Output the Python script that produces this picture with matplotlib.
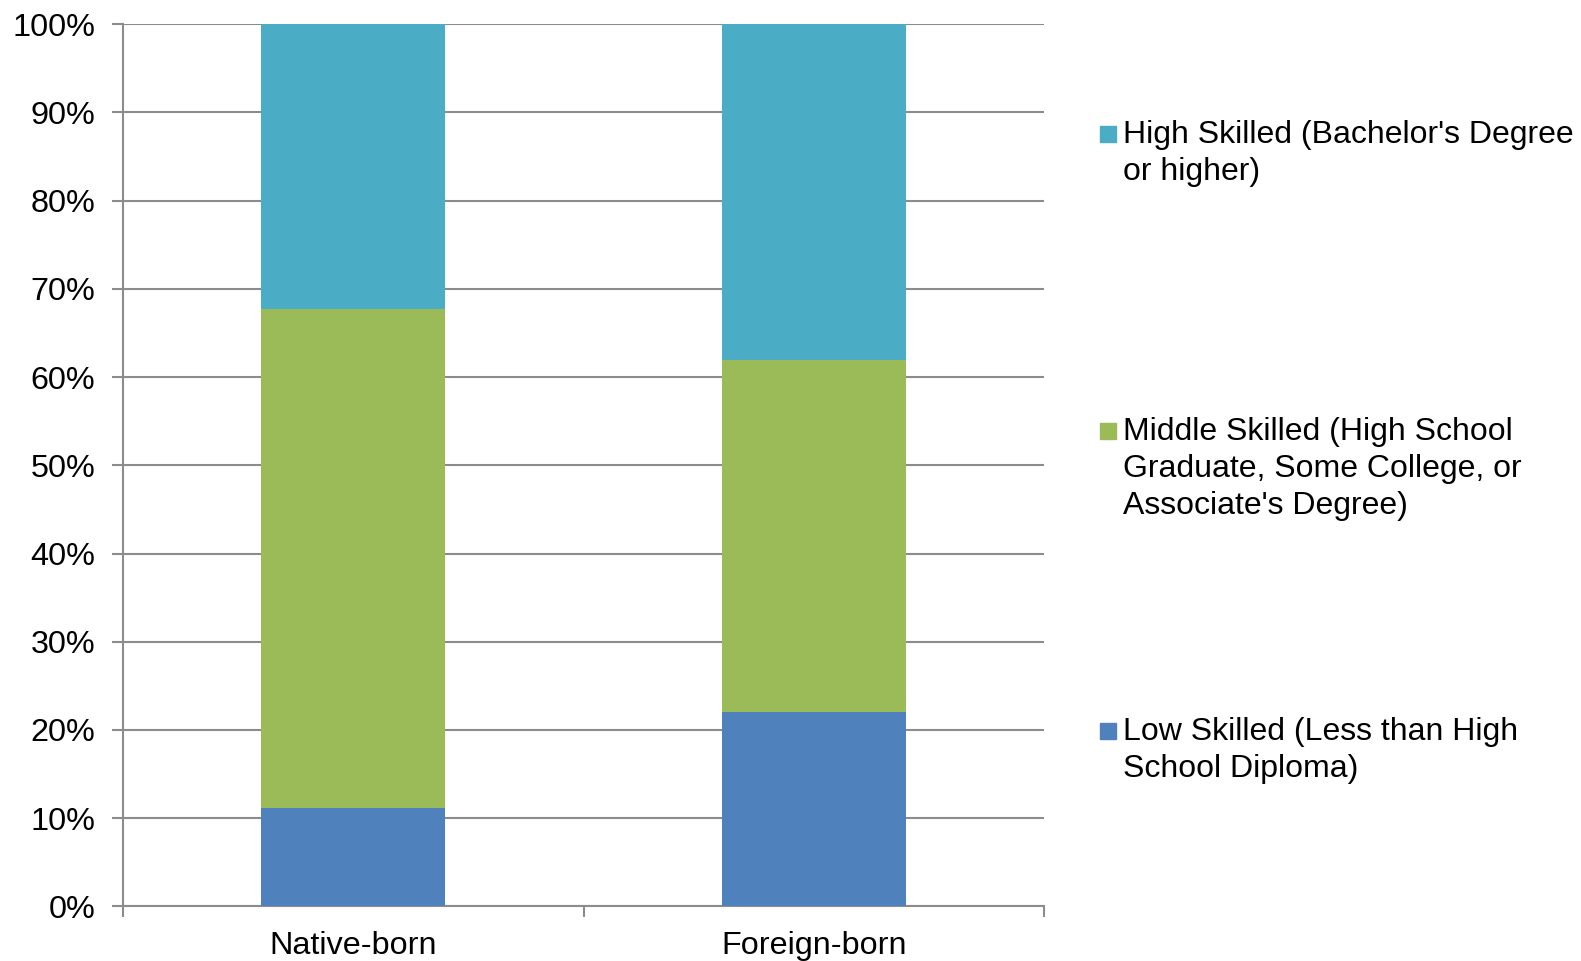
import matplotlib
matplotlib.use("Agg")
import matplotlib.pyplot as plt
from matplotlib.patches import Rectangle

plt.rcParams["font.family"] = ["Liberation Sans", "DejaVu Sans"]

groups = ["Native-born", "Foreign-born"]
low = [11.1, 22.0]
middle = [56.6, 39.9]
high = [32.3, 38.1]
labels = ["Low Skilled (Less than High\nSchool Diploma)",
          "Middle Skilled (High School\nGraduate, Some College, or\nAssociate's Degree)",
          "High Skilled (Bachelor's Degree\nor higher)"]
colors = ["#4F81BD", "#9BBB59", "#4BACC6"]

W, H = 1581, 961
fig = plt.figure(figsize=(W / 100, H / 100), dpi=100)
ax = fig.add_axes([123 / W, 1 - 906.3 / H, (1044 - 123) / W, (906.3 - 24.3) / H])

x = range(len(groups))
bottom = [0, 0]
for vals, c in zip([low, middle, high], colors):
    ax.bar(x, vals, width=0.4, bottom=bottom, color=c, zorder=3)
    bottom = [b + v for b, v in zip(bottom, vals)]

grid_c = "#8c8c8c"
fs = 23.3
ax.set_xlim(-0.5, 1.5)
ax.set_ylim(0, 100)
ax.set_yticks(range(0, 101, 10))
ax.set_yticklabels([f"{v}%" for v in range(0, 101, 10)], fontsize=fs)
ax.yaxis.grid(True, color=grid_c, lw=1.5, zorder=0)
ax.tick_params(axis="y", length=8, width=1.5, color=grid_c, pad=12)

ax.set_xticks([-0.5, 0.5, 1.5])
ax.set_xticklabels([])
ax.set_xticks([0, 1], minor=True)
ax.set_xticklabels(groups, minor=True, fontsize=fs)
ax.tick_params(axis="x", which="major", length=8, width=1.5, color=grid_c)
ax.tick_params(axis="x", which="minor", length=0, pad=17.5)

for s in ["top", "right"]:
    ax.spines[s].set_visible(False)
for s in ["left", "bottom"]:
    ax.spines[s].set_color(grid_c)
    ax.spines[s].set_linewidth(1.5)

# legend drawn by hand (entries spaced like the original)
base_y = [740, 440, 143]
line_h = 36.8
for lab, c, by in zip(labels, colors, base_y):
    n = lab.count("\n")
    fig.add_artist(Rectangle((1100 / W, 1 - (by - 1) / H), 16 / W, 16 / H,
                             transform=fig.transFigure, color=c))
    fig.text(1123 / W, 1 - (by + n * line_h) / H, lab, fontsize=23, va="baseline",
             ha="left", linespacing=1.3)

fig.savefig("out.png", dpi=100)
